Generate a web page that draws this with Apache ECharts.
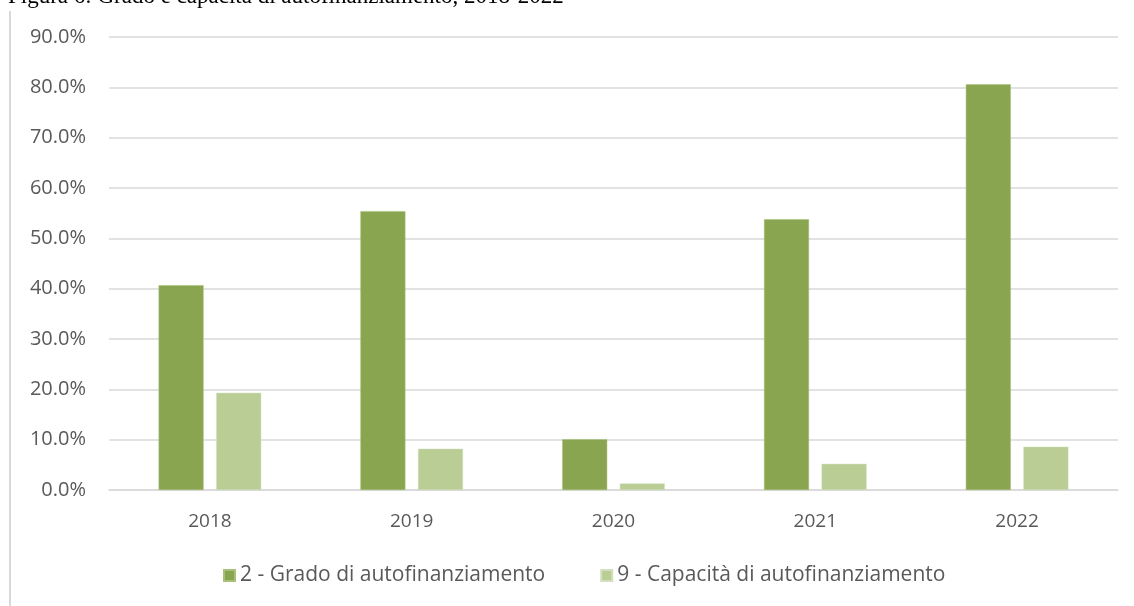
<!DOCTYPE html>
<html>
<head>
<meta charset="utf-8">
<script src="https://cdn.jsdelivr.net/npm/echarts@6/dist/echarts.min.js"></script>
<style>
    html, body { margin: 0; padding: 0; background: #fff; }
    #main { width: 1134px; height: 606px; }
</style>
</head>
<body>
<div id="main"></div>
<script>
// dati (valori in %)
var anni = ['2018', '2019', '2020', '2021', '2022'];
var gradoAutofin = [40.7, 55.4, 10.1, 53.8, 80.6];
var capacitaAutofin = [19.3, 8.2, 1.3, 5.2, 8.6];
var nomiSerie = ['2 - Grado di autofinanziamento', '9 - Capacità di autofinanziamento'];
var titolo = 'Figura 6: Grado e capacità di autofinanziamento, 2018-2022';

var myChart = echarts.init(document.getElementById('main'));

var grigio = '#595959';
var linea = '#d9d9d9';

option = {
    animation: false,
    backgroundColor: '#fff',
    textStyle: { fontFamily: 'Open Sans' },
    graphic: [
        // bordo sinistro dell'area grafico
        {
            type: 'line',
            shape: { x1: 10, y1: 11, x2: 10, y2: 606 },
            style: { stroke: linea, lineWidth: 2 }
        },
        // titolo tagliato in alto
        {
            type: 'text',
            left: 8,
            top: -15,
            style: {
                text: titolo,
                font: '23px "Liberation Serif"',
                fill: '#000'
            }
        }
    ],
    legend: {
        data: nomiSerie,
        left: 218,
        top: 560,
        itemWidth: 11,
        itemHeight: 11,
        itemGap: 55,
        icon: 'rect',
        textStyle: { color: grigio, fontSize: 21, fontFamily: 'Open Sans' }
    },
    grid: {
        left: 109,
        right: 16,
        top: 37,
        bottom: 116,
        containLabel: false
    },
    xAxis: [
        {
            type: 'category',
            data: anni,
            axisTick: { show: false },
            axisLine: { lineStyle: { color: linea, width: 1.5 } },
            axisLabel: { color: grigio, fontSize: 19, margin: 22 }
        }
    ],
    yAxis: [
        {
            type: 'value',
            min: 0,
            max: 90,
            interval: 10,
            axisLine: { show: false },
            axisTick: { show: false },
            splitLine: { lineStyle: { color: linea, width: 1.5 } },
            axisLabel: {
                color: grigio,
                fontSize: 20,
                margin: 23,
                formatter: function (v) { return v.toFixed(1) + '%'; }
            }
        }
    ],
    series: [
        {
            name: nomiSerie[0],
            type: 'bar',
            data: gradoAutofin,
            barWidth: 45,
            barGap: '28%',
            itemStyle: { color: '#8aa54f', borderColor: '#a9c07a', borderWidth: 0.5 }
        },
        {
            name: nomiSerie[1],
            type: 'bar',
            data: capacitaAutofin,
            barWidth: 45,
            itemStyle: { color: '#b9cd95', borderColor: '#d3e0bd', borderWidth: 0.5 }
        }
    ]
};

myChart.setOption(option, true);
</script>
</body>
</html>
